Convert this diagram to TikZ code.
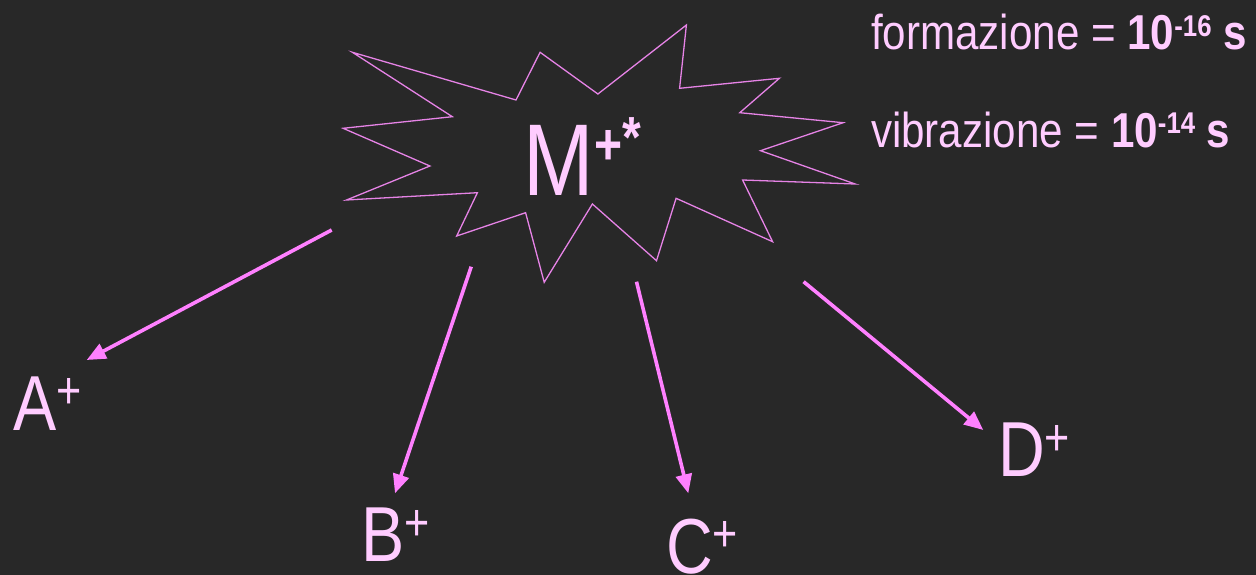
\documentclass[tikz,border=0pt]{standalone}
\usepackage{fontspec}
\setmainfont{Liberation Sans}[FakeStretch=0.83]
\newfontfamily\topfont{Liberation Sans}[FakeStretch=0.86]
\usetikzlibrary{arrows.meta}
\definecolor{bgcol}{HTML}{282828}
\definecolor{txtpink}{HTML}{FFCCFF}
\definecolor{burstcol}{HTML}{E683E6}
\definecolor{arrpink}{HTML}{FF80FF}
\newcommand{\ionlabel}[1]{\fontsize{78}{78}\selectfont #1\raisebox{21.4pt}{\fontsize{52}{52}\selectfont +}}
\tikzset{
  lbl/.style={anchor=base west, inner sep=0pt, outer sep=0pt, text=txtpink},
  toptext/.style={anchor=base west, inner sep=0pt, outer sep=0pt, text=txtpink, font=\topfont\fontsize{49}{49}\selectfont},
  burst/.style={draw=burstcol, line width=1.3pt, line join=miter},
  arr/.style={draw=arrpink, line width=3.6pt, -{Triangle[length=19pt,width=16pt]}}
}
\begin{document}
\begin{tikzpicture}[x=1pt,y=-1pt]
\fill[bgcol] (0,0) rectangle (1256,575);
\useasboundingbox (0,0) rectangle (1256,575);
% starburst
\draw[burst] (352.4,52.3) -- (516.0,100) -- (540.1,52.3) -- (597.9,94) -- (686.4,25)
  -- (679.6,88.3) -- (779.4,78.3) -- (739.8,112.7) -- (843.1,122.7) -- (760.5,150.7)
  -- (855.2,184) -- (742.6,180) -- (772.6,241.7) -- (676.1,198.3) -- (656.5,260.7)
  -- (592.4,204) -- (544.2,282.3) -- (525.6,212.7) -- (456.7,236) -- (477.4,192.7)
  -- (346.5,200) -- (429.9,166) -- (343.1,128.3) -- (452.3,116.7) -- cycle;
% central ion
\node[lbl] (M) at (523.5,195) {\fontsize{102}{102}\selectfont M\raisebox{31pt}{\fontsize{58}{58}\selectfont\bfseries +}\raisebox{37pt}{\fontsize{58}{58}\selectfont\bfseries *}};
% times
\node[toptext] (f1) at (871,50) {formazione = \textbf{10}\raisebox{13.5pt}{\fontsize{30}{30}\selectfont\bfseries -16} \textbf{s}};
\node[toptext] (f2) at (871,148) {vibrazione = \textbf{10}\raisebox{14.5pt}{\fontsize{30}{30}\selectfont\bfseries -14} \textbf{s}};
% fragments
\node[lbl] (A) at (13,430) {\ionlabel{A}};
\node[lbl] (B) at (361,561.7) {\ionlabel{B}};
\node[lbl] (C) at (666,573) {\ionlabel{C}};
\node[lbl] (D) at (998,476.7) {\ionlabel{D}};
% arrows
\coordinate (As) at (331.7,230);  \coordinate (At) at (86.7,360);
\coordinate (Bs) at (471.2,266.7); \coordinate (Bt) at (395,493.3);
\coordinate (Cs) at (636.5,281.7); \coordinate (Ct) at (688.3,493.3);
\coordinate (Ds) at (803.6,281.7); \coordinate (Dt) at (983.3,430);
\draw[arr] (As) -- (At);
\draw[arr] (Bs) -- (Bt);
\draw[arr] (Cs) -- (Ct);
\draw[arr] (Ds) -- (Dt);
\end{tikzpicture}
\end{document}
